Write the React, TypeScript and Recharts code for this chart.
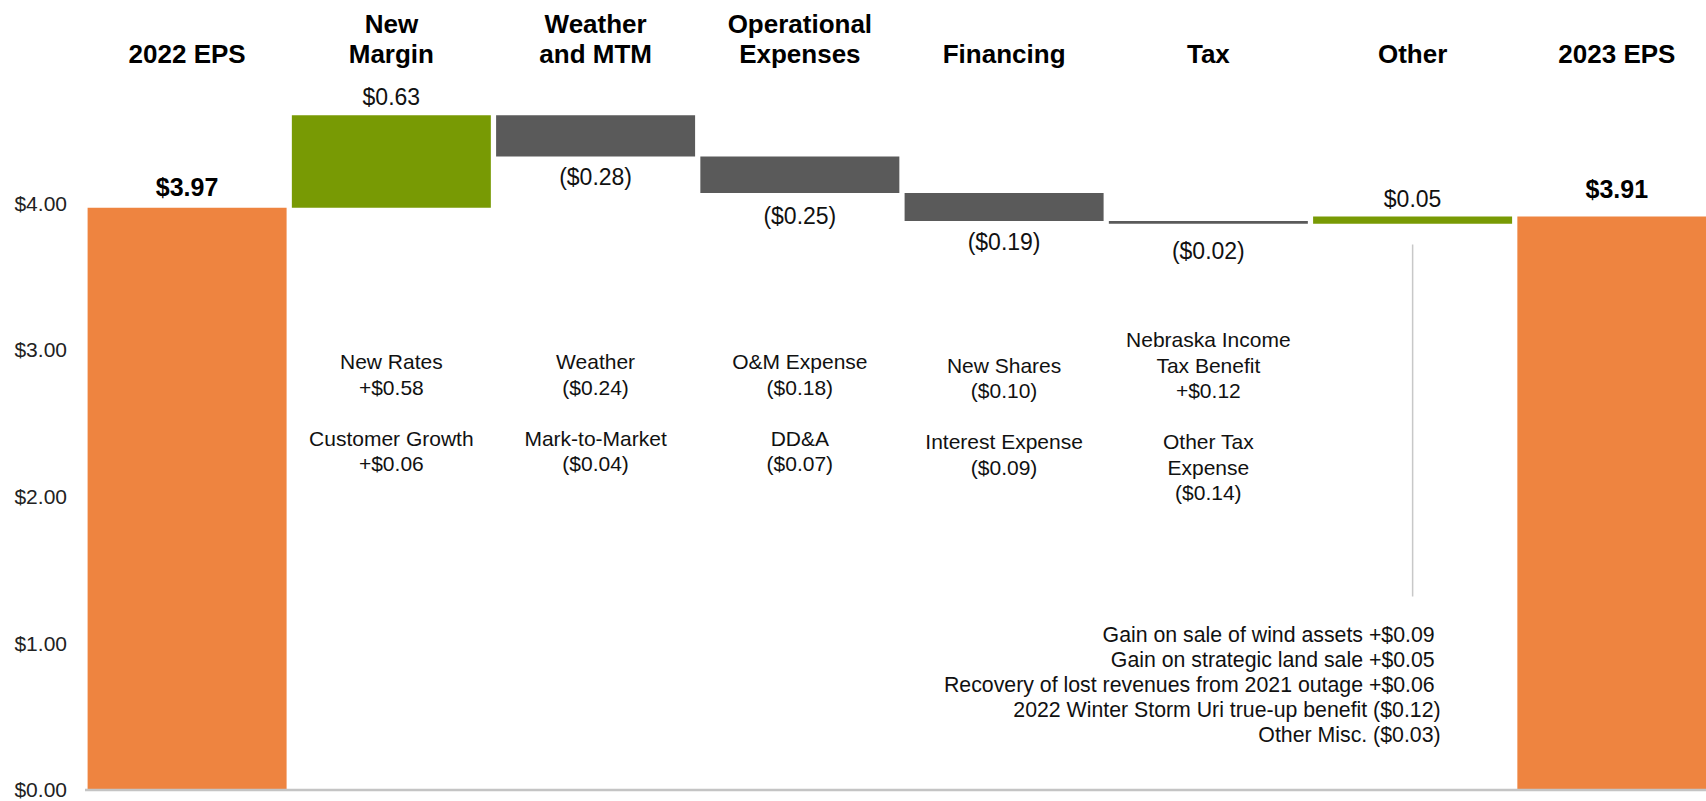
import React from 'react';
import { BarChart, Bar, XAxis, YAxis, LabelList, ReferenceLine, Cell } from 'recharts';

// ---------- data ----------
const categories = [
  '2022 EPS',
  'New\nMargin',
  'Weather\nand MTM',
  'Operational\nExpenses',
  'Financing',
  'Tax',
  'Other',
  '2023 EPS',
];
const changes = [3.97, 0.63, -0.28, -0.25, -0.19, -0.02, 0.05, 3.91];
const isTotal = [true, false, false, false, false, false, false, true];
const valueLabels = ['$3.97', '$0.63', '($0.28)', '($0.25)', '($0.19)', '($0.02)', '$0.05', '$3.91'];
const notes: string[][] = [
  [],
  ['New Rates', '+$0.58', '', 'Customer Growth', '+$0.06'],
  ['Weather', '($0.24)', '', 'Mark-to-Market', '($0.04)'],
  ['O&M Expense', '($0.18)', '', 'DD&A', '($0.07)'],
  ['New Shares', '($0.10)', '', 'Interest Expense', '($0.09)'],
  ['Nebraska Income', 'Tax Benefit', '+$0.12', '', 'Other Tax', 'Expense', '($0.14)'],
  [
    'Gain on sale of wind assets +$0.09 ',
    'Gain on strategic land sale +$0.05 ',
    'Recovery of lost revenues from 2021 outage +$0.06 ',
    '2022 Winter Storm Uri true-up benefit ($0.12)',
    'Other Misc. ($0.03)',
  ],
  [],
];
const yTicks = [0, 1, 2, 3, 4];
const otherLeader = [
  { x: 'Other', y: 3.72 },
  { x: 'Other', y: 1.32 },
];

// ---------- styling / layout ----------
const ORANGE = '#EE8440';
const GREEN = '#789A04';
const GRAY = '#5A5A5A';
const FONT = '"Liberation Sans", Arial, sans-serif';
// label gaps (px) between bar edge and value label baseline, per column
const labelGap = [12, 10, 29, 31, 29, 35, 10, 19];
const noteLayout = [
  null,
  { top: 369, lh: 25.5, anchor: 'middle', dx: 0 },
  { top: 369, lh: 25.5, anchor: 'middle', dx: 0 },
  { top: 369, lh: 25.5, anchor: 'middle', dx: 0 },
  { top: 372.5, lh: 25.5, anchor: 'middle', dx: 0 },
  { top: 347, lh: 25.5, anchor: 'middle', dx: 0 },
  { top: 641.5, lh: 25, anchor: 'end', dx: 28 },
  null,
];

// ---------- build table ----------
let running = 0;
const data = categories.map((name, i) => {
  const d = changes[i];
  let base = 0;
  let size = 0;
  if (isTotal[i]) {
    base = 0;
    size = d;
    running = d;
  } else {
    const end = running + d;
    base = Math.min(running, end);
    size = Math.abs(d);
    running = end;
  }
  return {
    name,
    base,
    size,
    totalLabel: isTotal[i] ? valueLabels[i] : '',
    upLabel: !isTotal[i] && d > 0 ? valueLabels[i] : '',
    downLabel: !isTotal[i] && d < 0 ? valueLabels[i] : '',
    note: notes[i].join('\n'),
    kind: isTotal[i] ? 'total' : d >= 0 ? 'up' : 'down',
  };
});

const getBox = (p: any) => {
  const vb = p.viewBox || {};
  return {
    x: Number(p.x ?? vb.x),
    y: Number(p.y ?? vb.y),
    width: Number(p.width ?? vb.width),
    height: Number(p.height ?? vb.height),
  };
};

const findIndex = (p: any, key: string) =>
  typeof p.index === 'number' ? p.index : data.findIndex((r: any) => r[key] === p.value);

const HeaderTick = (props: any) => {
  const { x, payload } = props;
  const lines = String(payload.value).split('\n');
  const n = lines.length;
  return (
    <g>
      {lines.map((l, j) => (
        <text
          key={j}
          x={x}
          y={63 - (n - 1 - j) * 30.5}
          textAnchor="middle"
          fontSize={26}
          fontWeight="bold"
          fill="#000"
          fontFamily={FONT}
        >
          {l}
        </text>
      ))}
    </g>
  );
};

const TotalLabel = (p: any) => {
  if (!p.value) return null;
  const b = getBox(p);
  const i = findIndex(p, 'totalLabel');
  return (
    <text x={b.x + b.width / 2} y={b.y - labelGap[i]} textAnchor="middle" fontSize={25} fontWeight="bold" fill="#000" fontFamily={FONT}>
      {p.value}
    </text>
  );
};

const UpLabel = (p: any) => {
  if (!p.value) return null;
  const b = getBox(p);
  const i = findIndex(p, 'upLabel');
  return (
    <text x={b.x + b.width / 2} y={b.y - labelGap[i]} textAnchor="middle" fontSize={23} fill="#111" fontFamily={FONT}>
      {p.value}
    </text>
  );
};

const DownLabel = (p: any) => {
  if (!p.value) return null;
  const b = getBox(p);
  const i = findIndex(p, 'downLabel');
  return (
    <text x={b.x + b.width / 2} y={b.y + b.height + labelGap[i]} textAnchor="middle" fontSize={23} fill="#111" fontFamily={FONT}>
      {p.value}
    </text>
  );
};

const NoteLabel = (p: any) => {
  if (!p.value) return null;
  const idx = findIndex(p, 'note');
  const lay = noteLayout[idx];
  if (!lay) return null;
  const b = getBox(p);
  const cx = b.x + b.width / 2 + lay.dx;
  const lines = String(p.value).split('\n');
  return (
    <g>
      {lines.map((l, j) =>
        l ? (
          <text
            key={j}
            x={cx}
            y={lay.top + j * lay.lh}
            textAnchor={lay.anchor as any}
            fontSize={idx === 6 ? 21.3 : 21}
            fill="#111"
            fontFamily={FONT}
            style={{ whiteSpace: 'pre' }}
          >
            {l}
          </text>
        ) : null
      )}
    </g>
  );
};

export default function App() {
  return (
    <div
      style={{
        position: 'fixed',
        left: 0,
        top: 0,
        width: 1706,
        height: 801,
        overflow: 'hidden',
        background: '#fff',
        fontFamily: FONT,
      }}
    >
      <BarChart
        width={1725}
        height={801}
        data={data}
        margin={{ top: 0, right: 6, bottom: 11, left: 0 }}
        barCategoryGap={2.6}
        style={{ fontFamily: FONT }}
      >
        <XAxis
          dataKey="name"
          orientation="top"
          height={86}
          axisLine={false}
          tickLine={false}
          interval={0}
          tick={<HeaderTick />}
        />
        <YAxis
          width={85}
          domain={[0, 4.8]}
          ticks={yTicks}
          interval={0}
          allowDataOverflow
          axisLine={false}
          tickLine={false}
          tickMargin={12}
          tick={{ fontSize: 21, fill: '#222', fontFamily: FONT }}
          tickFormatter={(v: number) => `$${v.toFixed(2)}`}
        />
        <Bar dataKey="base" stackId="a" fill="transparent" isAnimationActive={false} />
        <Bar dataKey="size" stackId="a" isAnimationActive={false}>
          {data.map((r, i) => (
            <Cell key={i} fill={r.kind === 'total' ? ORANGE : r.kind === 'up' ? GREEN : GRAY} />
          ))}
          <LabelList dataKey="totalLabel" content={<TotalLabel />} />
          <LabelList dataKey="upLabel" content={<UpLabel />} />
          <LabelList dataKey="downLabel" content={<DownLabel />} />
          <LabelList dataKey="note" content={<NoteLabel />} />
        </Bar>
        <ReferenceLine y={0} stroke="#C4C4C4" strokeWidth={2.5} />
        <ReferenceLine segment={otherLeader} stroke="#C8C8C8" strokeWidth={1.5} />
      </BarChart>
    </div>
  );
}
